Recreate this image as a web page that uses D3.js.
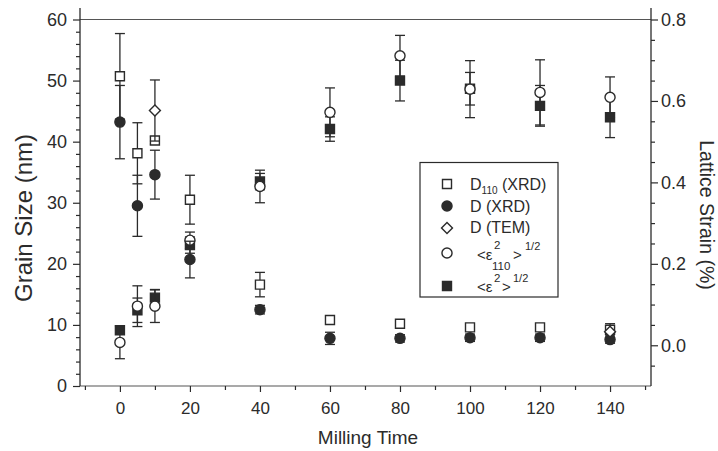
<!DOCTYPE html>
<html>
<head>
<meta charset="utf-8">
<script src="https://cdn.jsdelivr.net/npm/d3@7"></script>
<style>
  html, body { margin: 0; padding: 0; background: #fff; }
  svg { display: block; font-family: Arial, "Liberation Sans", Helvetica, sans-serif; }
</style>
</head>
<body>
<svg id="chart" width="718" height="451"></svg>
<script>
// Milling time (h) at which samples were measured
const millingTime = [0, 5, 10, 20, 40, 60, 80, 100, 120, 140];

// Grain size (nm) — left axis
const d110Xrd    = [50.7, 38.1, 40.2, 30.5, 16.6, 10.8, 10.2, 9.6, 9.6, 9.2];
const d110XrdErr = [7, 5, 0.6, 4, 2, 0.5, 0.5, 0.4, 0.4, 0.4];
const dXrd       = [43.2, 29.5, 34.6, 20.7, 12.5, 7.8, 7.8, 7.9, 7.9, 7.6];
const dXrdErr    = [6, 5, 4, 3, 0.7, 1, 0.6, 0.6, 0.6, 0.6];
const temTime    = [10, 140];
const dTem       = [45.1, 8.9];
const dTemErr    = [5, 1.3];

// Lattice strain (%) — right axis
const strain110     = [0.007, 0.096, 0.096, 0.258, 0.39, 0.572, 0.711, 0.629, 0.621, 0.609];
const strain110Err  = [0.04, 0.05, 0.04, 0.02, 0.04, 0.06, 0.05, 0.07, 0.08, 0.05];
const strainMean    = [0.037, 0.086, 0.117, 0.246, 0.402, 0.531, 0.65, 0.63, 0.588, 0.56];
const strainMeanErr = [0, 0.03, 0.02, 0.02, 0.02, 0.03, 0.05, 0.04, 0.05, 0.05];

// Axis ticks
const timeTicks       = [0, 20, 40, 60, 80, 100, 120, 140];
const timeMinorTicks  = [-10, 10, 30, 50, 70, 90, 110, 130, 150];
const grainTicks      = [0, 10, 20, 30, 40, 50, 60];
const strainTicks     = [0.0, 0.2, 0.4, 0.6, 0.8];

const ink = "#2b2b2b";
const svg = d3.select("#chart");

const plotLeft = 80, plotRight = 651, plotTop = 19.5, plotBottom = 386;

const x  = d3.scaleLinear().domain([-11.4, 151.7]).range([plotLeft, plotRight]);
const yL = d3.scaleLinear().domain([0, 60]).range([plotBottom, plotTop]);
const yR = d3.scaleLinear().domain([-0.1, 0.8]).range([plotBottom, plotTop]);

// ---- frame ----
svg.append("line").attr("x1", plotLeft).attr("x2", plotRight).attr("y1", plotTop).attr("y2", plotTop)
  .attr("stroke", "#555").attr("stroke-width", 1.2);
svg.append("line").attr("x1", plotLeft).attr("x2", plotRight).attr("y1", plotBottom).attr("y2", plotBottom)
  .attr("stroke", "#555").attr("stroke-width", 1.2);
svg.append("line").attr("x1", plotLeft).attr("x2", plotLeft).attr("y1", 8).attr("y2", plotBottom)
  .attr("stroke", ink).attr("stroke-width", 1.3);
svg.append("line").attr("x1", plotRight).attr("x2", plotRight).attr("y1", 8).attr("y2", plotBottom)
  .attr("stroke", ink).attr("stroke-width", 1.3);

function styleAxis(g, fontSize) {
  g.select(".domain").remove();
  g.selectAll(".tick line").attr("stroke", ink).attr("stroke-width", 1.2);
  g.selectAll(".tick text").attr("fill", ink).attr("font-size", fontSize)
    .attr("font-family", "Arial, 'Liberation Sans', sans-serif");
}

// bottom axis
const gx = svg.append("g").attr("transform", `translate(0,${plotBottom})`)
  .call(d3.axisBottom(x).tickValues(timeTicks).tickFormat(d3.format("d")).tickSize(6).tickPadding(10));
styleAxis(gx, 17);
const gxm = svg.append("g").attr("transform", `translate(0,${plotBottom})`)
  .call(d3.axisBottom(x).tickValues(timeMinorTicks).tickFormat("").tickSize(4));
styleAxis(gxm, 17);

// left axis
const minorGrain = d3.range(0, 61, 2).filter(v => v % 10 !== 0);
const gl = svg.append("g").attr("transform", `translate(${plotLeft},0)`)
  .call(d3.axisLeft(yL).tickValues(grainTicks).tickFormat(d3.format("d")).tickSize(7).tickPadding(6));
styleAxis(gl, 18);
const glm = svg.append("g").attr("transform", `translate(${plotLeft},0)`)
  .call(d3.axisLeft(yL).tickValues(minorGrain).tickFormat("").tickSize(4));
styleAxis(glm, 18);

// right axis
const minorStrain = d3.range(-0.05, 0.81, 0.05).map(v => +v.toFixed(2))
  .filter(v => !strainTicks.some(t => Math.abs(t - v) < 1e-6));
const gr = svg.append("g").attr("transform", `translate(${plotRight},0)`)
  .call(d3.axisRight(yR).tickValues(strainTicks).tickFormat(d3.format(".1f")).tickSize(7).tickPadding(3));
styleAxis(gr, 18);
const grm = svg.append("g").attr("transform", `translate(${plotRight},0)`)
  .call(d3.axisRight(yR).tickValues(minorStrain).tickFormat("").tickSize(4));
styleAxis(grm, 18);

// axis titles
svg.append("text").attr("x", 368).attr("y", 444).attr("text-anchor", "middle")
  .attr("font-size", 19).attr("fill", ink).text("Milling Time");
svg.append("text").attr("transform", "translate(32,218) rotate(-90)").attr("text-anchor", "middle")
  .attr("font-size", 24).attr("fill", ink).text("Grain Size (nm)");
svg.append("text").attr("transform", "translate(700,215) rotate(90)").attr("text-anchor", "middle")
  .attr("font-size", 19.5).attr("fill", ink).text("Lattice Strain (%)");

// ---- markers ----
const sq   = d3.symbol().type(d3.symbolSquare).size(81)();
const circ = d3.symbol().type(d3.symbolCircle).size(80)();
const diam = d3.symbol().type(d3.symbolSquare).size(60)();

function series(times, vals, errs, scale, shape, fill, rotate) {
  const data = times.map((t, i) => ({ t, v: vals[i], e: errs[i] }));
  const g = svg.append("g");
  const eb = g.selectAll("g.eb").data(data.filter(d => d.e > 0)).join("g")
    .attr("stroke", ink).attr("stroke-width", 1.3);
  eb.append("line")
    .attr("x1", d => x(d.t)).attr("x2", d => x(d.t))
    .attr("y1", d => scale(d.v + d.e)).attr("y2", d => scale(d.v - d.e));
  eb.append("line")
    .attr("x1", d => x(d.t) - 5).attr("x2", d => x(d.t) + 5)
    .attr("y1", d => scale(d.v + d.e)).attr("y2", d => scale(d.v + d.e));
  eb.append("line")
    .attr("x1", d => x(d.t) - 5).attr("x2", d => x(d.t) + 5)
    .attr("y1", d => scale(d.v - d.e)).attr("y2", d => scale(d.v - d.e));
  g.selectAll("path.m").data(data).join("path")
    .attr("d", shape)
    .attr("transform", d => `translate(${x(d.t)},${scale(d.v)})` + (rotate ? " rotate(45)" : ""))
    .attr("fill", fill).attr("stroke", ink).attr("stroke-width", 1.4);
}

series(millingTime, strainMean, strainMeanErr, yR, sq, ink, false);
series(millingTime, strain110, strain110Err, yR, circ, "#fff", false);
series(millingTime, d110Xrd, d110XrdErr, yL, sq, "#fff", false);
series(millingTime, dXrd, dXrdErr, yL, circ, ink, false);
series(temTime, dTem, dTemErr, yL, diam, "#fff", true);

// ---- legend ----
const lg = svg.append("g");
lg.append("rect").attr("x", 420).attr("y", 162.5).attr("width", 138).attr("height", 134.5)
  .attr("fill", "#fff").attr("stroke", ink).attr("stroke-width", 1.2);

const legendRows = [
  { y: 184, shape: sq, fill: "#fff", rot: false },
  { y: 206, shape: circ, fill: ink, rot: false },
  { y: 228, shape: diam, fill: "#fff", rot: true },
  { y: 253, shape: circ, fill: "#fff", rot: false },
  { y: 286, shape: sq, fill: ink, rot: false }
];
lg.selectAll("path").data(legendRows).join("path")
  .attr("d", d => d.shape)
  .attr("transform", d => `translate(447,${d.y})` + (d.rot ? " rotate(45)" : ""))
  .attr("fill", d => d.fill).attr("stroke", ink).attr("stroke-width", 1.4);

const lt = (xx, yy, size, str) => lg.append("text").attr("x", xx).attr("y", yy)
  .attr("font-size", size).attr("fill", ink).text(str);

// D110 (XRD)
const t1 = lg.append("text").attr("x", 470).attr("y", 190).attr("font-size", 16).attr("fill", ink);
t1.append("tspan").text("D");
t1.append("tspan").attr("font-size", 10).attr("dy", 4).text("110");
t1.append("tspan").attr("dy", -4).text(" (XRD)");
lt(470, 212, 16, "D (XRD)");
lt(470, 233, 16, "D (TEM)");
// <ε²₁₁₀>^1/2
lt(477, 260, 15, "<\u03b5");
lt(494, 249, 11.5, "2");
lt(492, 269.5, 11.5, "110");
lt(513, 260, 15, ">");
lt(525, 250, 11, "1/2");
// <ε²>^1/2
lt(477, 292, 15, "<\u03b5");
lt(494, 281.5, 11.5, "2");
lt(502, 292, 15, ">");
lt(513, 282, 11, "1/2");
</script>
</body>
</html>
